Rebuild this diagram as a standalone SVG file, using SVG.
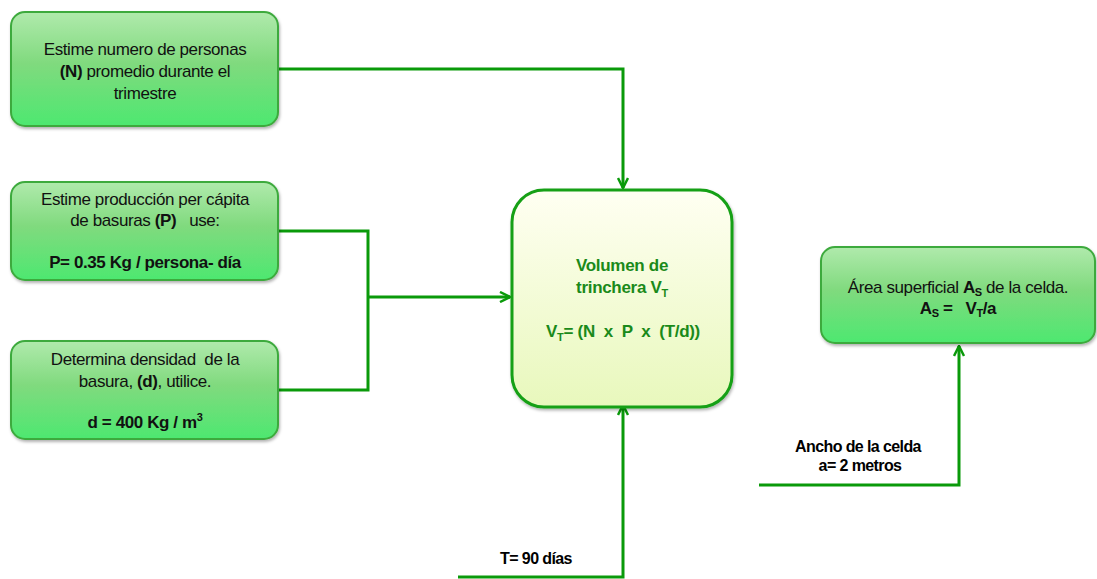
<svg xmlns="http://www.w3.org/2000/svg" width="1097" height="579" viewBox="0 0 1097 579">
<defs>
<linearGradient id="gn" x1="0" y1="0" x2="0" y2="1">
<stop offset="0" stop-color="#b0eaac"/>
<stop offset="0.45" stop-color="#80da7e"/>
<stop offset="1" stop-color="#4de870"/>
</linearGradient>
<linearGradient id="gc" x1="0" y1="0" x2="0" y2="1">
<stop offset="0" stop-color="#fffff2"/>
<stop offset="1" stop-color="#e8f8bc"/>
</linearGradient>
<filter id="sh" x="-10%" y="-10%" width="120%" height="130%">
<feDropShadow dx="1" dy="2" stdDeviation="1.5" flood-color="#000" flood-opacity="0.3"/>
</filter>
<marker id="ar" viewBox="0 0 12 12" refX="11" refY="6" markerWidth="12" markerHeight="12" markerUnits="userSpaceOnUse" orient="auto">
<path d="M1,1 L11,6 L1,11" fill="none" stroke="#0a9a0a" stroke-width="2.5"/>
</marker>
</defs>
<style>
.n{fill:url(#gn);stroke:#3daa3d;stroke-width:2;filter:url(#sh)}
.c{fill:url(#gc);stroke:#14a014;stroke-width:3;filter:url(#sh)}
.t{font-family:"Liberation Sans",Arial,sans-serif;font-size:17px;fill:#111;text-anchor:middle;letter-spacing:-0.4px;white-space:pre}
.b{font-weight:bold}
.g{fill:#1a8a1a;font-weight:bold;letter-spacing:-0.3px}
.l{fill:none;stroke:#0a9a0a;stroke-width:3}
.lab{font-family:"Liberation Sans",Arial,sans-serif;font-size:16px;font-weight:bold;fill:#000;text-anchor:middle;letter-spacing:-0.6px}
</style>
<g id="connectors">
<path class="l" d="M278,69 H623 V188" marker-end="url(#ar)"/>
<path class="l" d="M278,231 H368 V390 H278"/>
<path class="l" d="M368,297 H510" marker-end="url(#ar)"/>
<path class="l" d="M458,577 H623 V405" marker-end="url(#ar)"/>
<path class="l" d="M759,485 H959 V346" marker-end="url(#ar)"/>
</g>
<g id="n1">
<rect class="n" x="11" y="12" width="267" height="114" rx="14"/>
<text class="t" x="145" y="55">Estime numero de personas</text>
<text class="t" x="145" y="77"><tspan class="b">(N)</tspan> promedio durante el</text>
<text class="t" x="145" y="99">trimestre</text>
</g>
<g id="n2">
<rect class="n" x="11" y="182" width="267" height="98" rx="14"/>
<text class="t" x="145" y="205">Estime producción per cápita</text>
<text class="t" x="145" y="226">de basuras <tspan class="b">(P)</tspan>   use:</text>
<text class="t b" x="145" y="268">P= 0.35 Kg / persona- día</text>
</g>
<g id="n3">
<rect class="n" x="11" y="341" width="267" height="98" rx="14"/>
<text class="t" x="145" y="365">Determina densidad  de la</text>
<text class="t" x="145" y="387">basura, <tspan class="b">(d)</tspan>, utilice.</text>
<text class="t b" x="145" y="428">d = 400 Kg / m<tspan font-size="11" dy="-7">3</tspan></text>
</g>
<g id="center">
<rect class="c" x="512" y="190" width="220" height="217" rx="32"/>
<text class="t g" x="622" y="271">Volumen de</text>
<text class="t g" x="622" y="293">trinchera V<tspan font-size="11" dy="4">T</tspan></text>
<text class="t g" x="623" y="337">V<tspan font-size="11" dy="4">T</tspan><tspan dy="-4">= (N  x  P  x  (T/d))</tspan></text>
</g>
<g id="area">
<rect class="n" x="821" y="247" width="274" height="96" rx="14"/>
<text class="t" x="958" y="293">Área superficial <tspan class="b">A<tspan font-size="11" dy="3">S</tspan></tspan><tspan dy="-3"> de la celda.</tspan></text>
<text class="t b" x="958" y="314">A<tspan font-size="11" dy="3">S</tspan><tspan dy="-3"> =   V</tspan><tspan font-size="11" dy="3">T</tspan><tspan dy="-3">/a</tspan></text>
</g>
<g id="labels">
<text class="lab" x="858" y="452">Ancho de la celda</text>
<text class="lab" x="860" y="471">a= 2 metros</text>
<text class="lab" x="536" y="564">T= 90 días</text>
</g>
</svg>
